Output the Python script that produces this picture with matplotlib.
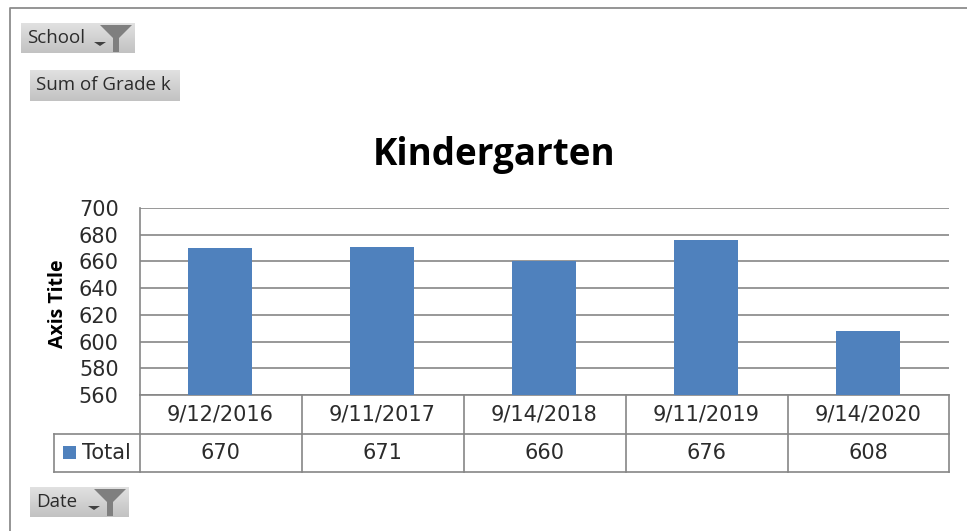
import numpy as np
import matplotlib
matplotlib.use("Agg")
import matplotlib.pyplot as plt
from matplotlib.patches import Polygon

# data
dates = ["9/12/2016", "9/11/2017", "9/14/2018", "9/11/2019", "9/14/2020"]
totals = [670, 671, 660, 676, 608]
y_ticks = [560, 580, 600, 620, 640, 660, 680, 700]

W, H = 967, 531
BLUE = "#4F81BD"
GRID = "#868686"
TXT = "#2b2b2b"

plt.rcParams["font.family"] = ["Open Sans", "DejaVu Sans"]

fig = plt.figure(figsize=(W / 100, H / 100), dpi=100, facecolor="white")

# overlay in pixel coordinates for the window frame, buttons and table
bg = fig.add_axes([0, 0, 1, 1])
bg.set_xlim(0, W)
bg.set_ylim(H, 0)
bg.axis("off")

# frame
bg.plot([10, 10, W], [H, 8, 8], color="#8c8c8c", lw=1.3)


def button(x0, x1, y0, y1, label, lx, funnel=True):
    grad = np.linspace(0.88, 0.76, 32).reshape(-1, 1)
    bg.imshow(grad, extent=[x0, x1, y1, y0], cmap="gray", vmin=0, vmax=1,
              aspect="auto", zorder=1)
    bg.text(lx, (y0 + y1) / 2, label, fontsize=13.5, color=TXT, ha="left",
            va="center", zorder=3)
    if funnel:
        fx = x1 - 19
        bg.add_patch(Polygon([[fx - 16, y0 + 2], [fx + 16, y0 + 2], [fx + 3, y0 + 15],
                              [fx + 3, y1 - 1], [fx - 3, y1 - 1], [fx - 3, y0 + 15]],
                             closed=True, color="#7f7f7f", lw=0, zorder=2))
        ax_ = fx - 16
        ay = (y0 + y1) / 2 + 6
        bg.add_patch(Polygon([[ax_ - 6, ay - 2], [ax_ + 6, ay - 2], [ax_, ay + 2]],
                             closed=True, color="#404040", lw=0, zorder=3))


button(21, 135, 23, 53, "School", 27)
button(30, 180, 70, 101, "Sum of Grade k", 36, funnel=False)
button(30, 129, 487, 517, "Date", 36)

# data table
col_x = [139.5, 301.5, 463.5, 625.5, 787.5, 949]
row_y = [395, 434, 472]
for x in col_x:
    bg.plot([x, x], [row_y[0], row_y[2]], color=GRID, lw=1.2, zorder=2)
bg.plot([54, 949], [row_y[1], row_y[1]], color=GRID, lw=1.2, zorder=2)
bg.plot([54, 949], [row_y[2], row_y[2]], color=GRID, lw=1.2, zorder=2)
bg.plot([54, 54], [row_y[1], row_y[2]], color=GRID, lw=1.2, zorder=2)
for i in range(len(dates)):
    xc = (col_x[i] + col_x[i + 1]) / 2
    bg.text(xc, 415, dates[i], ha="center", va="center", fontsize=15,
            color=TXT, family="DejaVu Sans")
    bg.text(xc, 453, str(totals[i]), ha="center", va="center", fontsize=15,
            color=TXT, family="DejaVu Sans")
bg.add_patch(plt.Rectangle((63, 446), 13, 13, color=BLUE, lw=0))
bg.text(82, 453, "Total", ha="left", va="center", fontsize=15, color=TXT,
        family="DejaVu Sans")

bg.text(494, 155, "Kindergarten", ha="center", va="center", fontsize=26.5,
        fontweight="bold", color="black")
bg.text(58, 304, "Axis Title", rotation=90, ha="center", va="center",
        fontsize=14, fontweight="bold", color="black")
bg.set_xlim(0, W)
bg.set_ylim(H, 0)

# chart
ax = fig.add_axes([139.5 / W, 1 - 395 / H, (949 - 139.5) / W, (395 - 208) / H])
ax.patch.set_alpha(0)
x = np.arange(len(dates))
ax.bar(x, totals, width=0.395, color=BLUE, zorder=3)
ax.set_xlim(-0.5, 4.5)
ax.set_ylim(560, 700)
ax.set_yticks(y_ticks)
ax.set_xticks([])
ax.tick_params(axis="y", length=0, pad=15, labelsize=15, labelcolor=TXT)
for lab in ax.get_yticklabels():
    lab.set_family("DejaVu Sans")
ax.grid(axis="y", color=GRID, lw=1.2, zorder=0)
ax.set_axisbelow(True)
for s in ["top", "right"]:
    ax.spines[s].set_visible(False)
for s in ["left", "bottom"]:
    ax.spines[s].set_color(GRID)
    ax.spines[s].set_linewidth(1.2)

fig.savefig("out.png", dpi=100)
